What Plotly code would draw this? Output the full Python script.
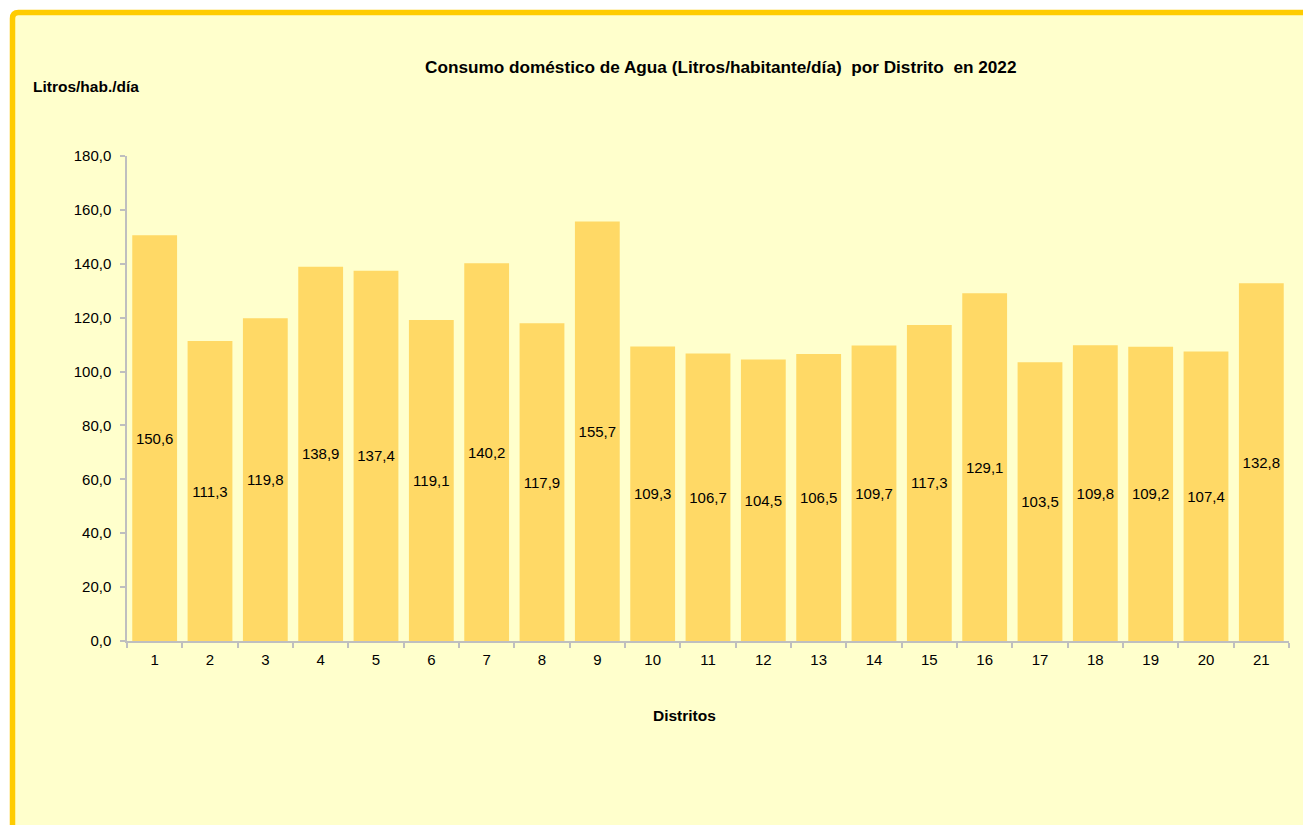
import plotly.graph_objects as go

distritos = [str(i) for i in range(1, 22)]
consumo = [150.6, 111.3, 119.8, 138.9, 137.4, 119.1, 140.2, 117.9, 155.7, 109.3,
           106.7, 104.5, 106.5, 109.7, 117.3, 129.1, 103.5, 109.8, 109.2, 107.4, 132.8]
y_ticks = [0, 20, 40, 60, 80, 100, 120, 140, 160, 180]

# the page body has an 8px margin, so the figure is drawn 8px smaller
OFF = 8
W, H = 1311 - OFF, 825 - OFF
L, T = 127 - OFF, 156 - OFF
PW, PH = 1162, 485
R, B = W - L - PW, H - T - PH


def px_x(x):
    # reference pixel -> paper fraction
    return (x - 127) / PW


def px_y(y):
    return (641 - y) / PH


BG = "#FFFFCC"
BORDER = "#FFCC00"
BAR = "#FFD966"
AXIS = "#BFBFBF"
FONT = "Liberation Sans, Arial, sans-serif"

fig = go.Figure(
    go.Bar(
        x=distritos,
        y=consumo,
        marker=dict(color=BAR, line=dict(width=0)),
        texttemplate="%{y:.1f}",
        textposition="inside",
        insidetextanchor="middle",
        textangle=0,
        textfont=dict(color="#000000", size=15, family=FONT),
        hoverinfo="skip",
    )
)

# frame with rounded top-left corner
x0, y0 = px_x(12.5), px_y(12.5)
x1, y1 = px_x(1311 + 20), px_y(825 + 20)
rx, ry = 6 / PW, 6 / PH
path = (f"M {x0},{y1} L {x0},{y0 - ry} Q {x0},{y0} {x0 + rx},{y0} "
        f"L {x1},{y0} L {x1},{y1} Z")
fig.add_shape(type="path", path=path, xref="paper", yref="paper",
              fillcolor=BG, line=dict(color=BORDER, width=5.5), layer="below")

fig.add_annotation(text="<b>Consumo doméstico de Agua (Litros/habitante/día)  por Distrito  en 2022</b>",
                   x=px_x(720), y=px_y(67), xref="paper", yref="paper",
                   xanchor="center", yanchor="middle",
                   showarrow=False, font=dict(size=17.2, color="#000000", family=FONT))
fig.add_annotation(text="<b>Litros/hab./día</b>",
                   x=px_x(31), y=px_y(86), xref="paper", yref="paper",
                   xanchor="left", yanchor="middle",
                   showarrow=False, font=dict(size=15.5, color="#000000", family=FONT))
fig.add_annotation(text="<b>Distritos</b>",
                   x=px_x(684), y=px_y(715), xref="paper", yref="paper",
                   xanchor="center", yanchor="middle",
                   showarrow=False, font=dict(size=15.5, color="#000000", family=FONT))

fig.update_xaxes(
    type="category", showline=True, linecolor=AXIS, linewidth=1.5,
    ticks="outside", tickson="boundaries", ticklen=5, tickcolor=AXIS, tickwidth=1.5,
    ticklabelstandoff=4,
    tickfont=dict(size=15, color="#000000", family=FONT), showgrid=False,
)
fig.update_yaxes(
    range=[0, 180], tickvals=y_ticks, tickformat=".1f",
    showline=True, linecolor=AXIS, linewidth=1.5,
    ticks="outside", ticklen=5, tickcolor=AXIS, tickwidth=1.5,
    ticklabelstandoff=6,
    tickfont=dict(size=15, color="#000000", family=FONT),
    showgrid=False, zeroline=False,
)
fig.update_layout(
    width=W, height=H,
    margin=dict(l=L, r=R, t=T, b=B, autoexpand=False),
    paper_bgcolor="#FFFFFF", plot_bgcolor="rgba(0,0,0,0)",
    separators=",.", bargap=0.19, showlegend=False,
    font=dict(family=FONT),
)

fig.write_html("out.html")
